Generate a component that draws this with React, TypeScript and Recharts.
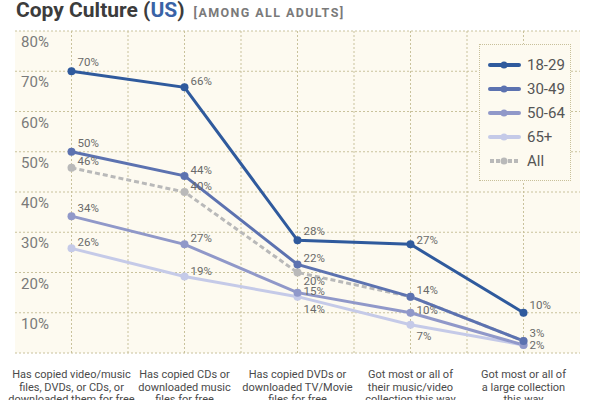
import React from "react";
import {
  LineChart,
  Line,
  XAxis,
  YAxis,
  CartesianGrid,
  LabelList,
} from "recharts";

const categoryLines: string[][] = [
  ["Has copied video/music", "files, DVDs, or CDs, or", "downloaded them for free"],
  ["Has copied CDs or", "downloaded music", "files for free"],
  ["Has copied DVDs or", "downloaded TV/Movie", "files for free"],
  ["Got most or all of", "their music/video", "collection this way"],
  ["Got most or all of", "a large collection", "this way"],
];
const categories = categoryLines.map((l) => l.join(" "));

const age1829 = [70, 66, 28, 27, 10];
const age3049 = [50, 44, 22, 14, 3];
const age5064 = [34, 27, 15, 10, 2];
const age65 = [26, 19, 14, 7, 2];
const allAdults = [46, 40, 20, 14, 3];

const yTicks = [0, 10, 20, 30, 40, 50, 60, 70, 80];

const data = categories.map((c, i) => ({
  cat: c,
  a: age1829[i],
  b: age3049[i],
  c: age5064[i],
  d: age65[i],
  e: allAdults[i],
}));

// label vertical offsets (style), null = no label
const series = [
  { key: "e", name: "All", color: "#b9b9b9", dashed: true, offs: [-7, -6, 8, null, null] },
  { key: "d", name: "65+", color: "#c5cae8", dashed: false, offs: [-6, -6, 12, 11, 0] },
  { key: "c", name: "50-64", color: "#9098c9", dashed: false, offs: [-8, -6, -2, -3, null] },
  { key: "b", name: "30-49", color: "#5c72b0", dashed: false, offs: [-9, -6, -6, -7, -8] },
  { key: "a", name: "18-29", color: "#2f5a9d", dashed: false, offs: [-9, -6, -9, -4, -8] },
];

const FONT = "Roboto, 'DejaVu Sans', sans-serif";

const makeLabel = (offs: (number | null)[]) => (props: any) => {
  const { x, y, value, index } = props;
  const o = offs[index];
  if (o === null || o === undefined) return null;
  return (
    <text
      x={x + 6}
      y={y + o + 4}
      fontSize={11.5}
      fill="#6a6a6a"
      fontFamily={FONT}
      textAnchor="start"
    >
      {value}%
    </text>
  );
};

const XTick = (props: any) => {
  const { x, y, index } = props;
  const lines = categoryLines[index] || [];
  return (
    <g>
      {lines.map((l, i) => (
        <text
          key={i}
          x={x}
          y={y + 25 + i * 12.5}
          textAnchor="middle"
          fontSize={11}
          fill="#4a4a4a"
          fontFamily={FONT}
        >
          {l}
        </text>
      ))}
    </g>
  );
};

const YTick = (props: any) => {
  const { x, y, payload } = props;
  if (payload.value === 0) return null;
  return (
    <text x={x + 6} y={y + 16} textAnchor="start" fontSize={15} fill="#7a7a7a" fontFamily={FONT}>
      {payload.value}%
    </text>
  );
};

const legendOrder = ["a", "b", "c", "d", "e"];

const LegendBox = () => (
  <div
    style={{
      position: "absolute",
      left: 479,
      top: 44,
      border: "1px dotted #c8c09a",
      background: "#fdfaf0",
      width: 92,
      height: 137,
      boxSizing: "border-box",
      paddingTop: 8,
      fontFamily: FONT,
    }}
  >
    {legendOrder.map((k) => {
      const s = series.find((q) => q.key === k)!;
      return (
        <div key={k} style={{ display: "flex", alignItems: "center", height: 24 }}>
          <svg width={34} height={10} style={{ marginLeft: 8 }}>
            <line
              x1={2}
              y1={5}
              x2={31}
              y2={5}
              stroke={s.color}
              strokeWidth={4}
              strokeLinecap={s.dashed ? "butt" : "round"}
              strokeDasharray={s.dashed ? "4 2" : undefined}
            />
            <circle cx={16} cy={5} r={3.5} fill={s.color} />
          </svg>
          <span style={{ fontSize: 15, color: "#555", marginLeft: 5 }}>{s.name}</span>
        </div>
      );
    })}
  </div>
);

export default function App() {
  return (
    <div style={{ position: "absolute", left: 0, top: 0, width: 600, height: 400, background: "#fff", overflow: "hidden" }}>
      <LineChart
        width={600}
        height={400}
        data={data}
        margin={{ top: 31, right: 20, bottom: 0, left: 14 }}
        style={{ position: "absolute", left: 0, top: 0 }}
      >
        <CartesianGrid
          fill="#fdfaf0"
          stroke="#c9c29c"
          strokeDasharray="2 2"
          verticalCoordinatesGenerator={(p: any) =>
            Array.from({ length: 9 }, (_, i) => p.offset.left + (p.offset.width * (i + 1)) / 10)
          }
        />
        <XAxis
          dataKey="cat"
          scale="band"
          axisLine={false}
          tickLine={false}
          tickSize={0}
          tickMargin={0}
          interval={0}
          tick={<XTick />}
          height={47}
        />
        <YAxis
          type="number"
          domain={[0, 80]}
          ticks={yTicks}
          width={1}
          axisLine={false}
          tickLine={false}
          tickSize={0}
          tickMargin={0}
          tick={(p: any) => <YTick {...p} />}
          interval={0}
        />
        {series.map((s) => (
          <Line
            key={s.key}
            dataKey={s.key}
            name={s.name}
            stroke={s.color}
            strokeWidth={3}
            strokeDasharray={s.dashed ? "5 3" : undefined}
            dot={{ r: 4, fill: s.color, stroke: s.color, strokeWidth: 0, strokeDasharray: "" }}
            isAnimationActive={false}
          >
            <LabelList dataKey={s.key} content={makeLabel(s.offs)} />
          </Line>
        ))}
      </LineChart>
      <LegendBox />
      <div
        style={{
          position: "absolute",
          left: 16,
          top: -2,
          fontFamily: FONT,
          whiteSpace: "nowrap",
        }}
      >
        <span style={{ fontSize: 21, fontWeight: 700, color: "#3c3c3c" }}>
          Copy Culture (<span style={{ color: "#3a63a6" }}>US</span>)
        </span>
        <span style={{ fontSize: 12.5, fontWeight: 700, color: "#7a7a7a", letterSpacing: 1.4, marginLeft: 9 }}>
          [AMONG ALL ADULTS]
        </span>
      </div>
    </div>
  );
}
